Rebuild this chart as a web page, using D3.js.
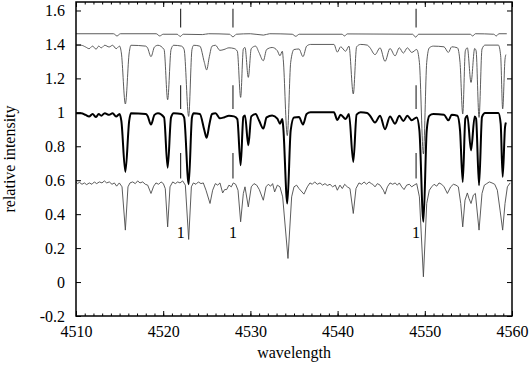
<!DOCTYPE html>
<html lang="en">
<head>
<meta charset="UTF-8">
<title>Spectra</title>
<script src="https://d3js.org/d3.v7.min.js"></script>
<style>
  body { margin: 0; background: #fff; }
  svg { display: block; font-family: "Liberation Serif", "DejaVu Serif", serif; }
  .axis text { font-family: "Liberation Serif", serif; font-size: 16px; fill: #000; }
  .axis path, .axis line { stroke: #000; }
  .axis-label { font-size: 16px; }
  .thin { fill: none; stroke: #4a4a4a; stroke-width: 0.9; }
  .thick { fill: none; stroke: #000; stroke-width: 2; }
</style>
</head>
<body>
<div id="chart"></div>
<script>
// model spectrum [wavelength, intensity], continuum at 1
const model = [
  [4510.0, 0.995], [4510.6, 0.995], [4511.1, 0.985], [4511.5, 0.975], [4511.9, 0.99],
  [4512.3, 0.972], [4512.6, 0.99], [4512.9, 0.98], [4513.3, 0.995], [4513.8, 0.985],
  [4514.2, 0.995], [4514.6, 0.975], [4515.0, 0.99], [4515.2, 0.95], [4515.66, 0.649],
  [4516.1, 0.95], [4516.3, 0.995], [4518.0, 0.99], [4518.2, 0.98], [4518.6, 0.928],
  [4519.0, 0.985], [4519.4, 0.995], [4520.1, 0.97], [4520.51, 0.674], [4520.9, 0.97],
  [4521.2, 0.995], [4522.1, 0.99], [4522.4, 0.97], [4522.92, 0.576], [4523.3, 0.97],
  [4523.5, 0.995], [4524.2, 0.99], [4524.72, 0.894], [4524.98, 0.85], [4525.3, 0.93],
  [4525.6, 0.99], [4526.0, 0.995], [4526.5, 0.965], [4526.97, 0.97], [4527.54, 0.98],
  [4528.12, 0.976], [4528.5, 0.96], [4528.88, 0.688], [4529.19, 0.973], [4529.38, 0.982],
  [4529.76, 0.806], [4530.1, 0.976], [4530.6, 0.99], [4530.98, 0.953], [4531.48, 0.904],
  [4531.86, 0.97], [4532.5, 0.982], [4533.09, 0.963], [4533.39, 0.933], [4533.66, 0.96],
  [4533.77, 0.91], [4534.23, 0.463], [4534.62, 0.894], [4535.0, 0.97], [4535.57, 0.973],
  [4536.03, 0.928], [4536.45, 0.99], [4536.9, 1.0], [4539.58, 1.0], [4539.97, 0.955],
  [4540.35, 0.986], [4540.92, 0.96], [4541.3, 0.99], [4541.8, 0.708], [4542.18, 0.986],
  [4542.64, 1.0], [4543.4, 0.996], [4543.72, 0.98], [4544.29, 0.94], [4544.87, 0.98],
  [4545.44, 0.9], [4546.01, 0.976], [4546.59, 0.933], [4547.08, 0.98], [4547.54, 0.949],
  [4548.0, 0.98], [4548.5, 0.953], [4549.07, 0.97], [4549.38, 0.894], [4549.84, 0.355],
  [4550.22, 0.894], [4550.52, 0.98], [4550.98, 0.99], [4552.2, 0.986], [4552.7, 0.953],
  [4553.09, 0.986], [4553.74, 0.98], [4554.04, 0.894], [4554.35, 0.59], [4554.65, 0.963],
  [4554.88, 0.98], [4555.3, 0.776], [4555.72, 0.976], [4555.88, 0.963], [4556.22, 0.57],
  [4556.56, 0.973], [4556.91, 0.996], [4558.44, 0.996], [4558.7, 0.933], [4558.93, 0.62],
  [4559.2, 0.913], [4559.3, 0.94]
];

// observed spectrum, plotted as is (continuum near 0.58)
const observed = [
  [4510.0, 0.59], [4510.19, 0.58], [4510.38, 0.588], [4510.69, 0.576], [4510.96, 0.584],
  [4511.22, 0.574], [4511.53, 0.584], [4511.83, 0.576], [4512.1, 0.59], [4512.37, 0.58],
  [4512.68, 0.59], [4512.98, 0.584], [4513.25, 0.596], [4513.52, 0.584], [4513.82, 0.59],
  [4514.13, 0.576], [4514.4, 0.584], [4514.66, 0.565], [4514.97, 0.584], [4515.28, 0.561],
  [4515.66, 0.306], [4515.96, 0.561], [4516.19, 0.584], [4516.5, 0.59], [4516.8, 0.58],
  [4517.07, 0.596], [4517.34, 0.584], [4517.65, 0.59], [4517.95, 0.576], [4518.22, 0.571],
  [4518.6, 0.522], [4518.91, 0.565], [4519.17, 0.584], [4519.48, 0.576], [4519.75, 0.59],
  [4520.02, 0.58], [4520.24, 0.55], [4520.51, 0.325], [4520.78, 0.561], [4521.09, 0.59],
  [4521.39, 0.58], [4521.66, 0.59], [4521.93, 0.584], [4522.23, 0.596], [4522.54, 0.571],
  [4522.92, 0.251], [4523.23, 0.561], [4523.46, 0.584], [4523.76, 0.576], [4524.03, 0.59],
  [4524.33, 0.58], [4524.6, 0.584], [4524.91, 0.541], [4525.37, 0.463], [4525.67, 0.541],
  [4525.98, 0.58], [4526.25, 0.571], [4526.51, 0.584], [4526.82, 0.525], [4527.05, 0.545],
  [4527.28, 0.545], [4527.54, 0.571], [4527.81, 0.561], [4528.04, 0.584], [4528.31, 0.576],
  [4528.58, 0.541], [4528.88, 0.355], [4529.19, 0.522], [4529.38, 0.561], [4529.76, 0.443],
  [4530.1, 0.561], [4530.41, 0.58], [4530.72, 0.571], [4531.02, 0.545], [4531.48, 0.482],
  [4531.79, 0.561], [4532.05, 0.576], [4532.32, 0.565], [4532.55, 0.58], [4532.78, 0.531],
  [4533.09, 0.571], [4533.39, 0.561], [4533.7, 0.502], [4534.31, 0.139], [4534.73, 0.502],
  [4535.0, 0.561], [4535.3, 0.571], [4535.57, 0.551], [4536.14, 0.518], [4536.53, 0.561],
  [4536.83, 0.584], [4537.1, 0.576], [4537.37, 0.59], [4537.67, 0.576], [4537.98, 0.584],
  [4538.28, 0.571], [4538.55, 0.58], [4538.82, 0.569], [4539.13, 0.576], [4539.43, 0.561],
  [4539.74, 0.571], [4539.97, 0.541], [4540.27, 0.571], [4540.54, 0.551], [4540.81, 0.576],
  [4541.11, 0.561], [4541.42, 0.551], [4541.8, 0.404], [4542.11, 0.551], [4542.45, 0.584],
  [4542.76, 0.576], [4543.03, 0.59], [4543.33, 0.576], [4543.6, 0.59], [4543.87, 0.58],
  [4544.03, 0.576], [4544.29, 0.561], [4544.56, 0.58], [4544.87, 0.571], [4545.25, 0.541],
  [4545.44, 0.518], [4545.71, 0.561], [4546.01, 0.584], [4546.32, 0.576], [4546.59, 0.584],
  [4546.85, 0.571], [4547.08, 0.584], [4547.35, 0.561], [4547.62, 0.545], [4547.92, 0.571],
  [4548.23, 0.576], [4548.5, 0.561], [4548.77, 0.571], [4549.07, 0.58], [4549.38, 0.502],
  [4549.84, 0.031], [4550.22, 0.463], [4550.52, 0.541], [4550.79, 0.561], [4551.06, 0.576],
  [4551.37, 0.565], [4551.63, 0.584], [4551.94, 0.576], [4552.21, 0.561], [4552.59, 0.522],
  [4552.97, 0.561], [4553.28, 0.576], [4553.58, 0.571], [4553.85, 0.561], [4554.12, 0.463],
  [4554.35, 0.325], [4554.61, 0.482], [4554.88, 0.525], [4555.07, 0.492], [4555.3, 0.463],
  [4555.57, 0.512], [4555.8, 0.522], [4556.22, 0.306], [4556.56, 0.522], [4556.83, 0.571],
  [4557.1, 0.58], [4557.4, 0.59], [4557.71, 0.584], [4558.02, 0.576], [4558.32, 0.541],
  [4558.63, 0.424], [4558.93, 0.306], [4559.2, 0.463], [4559.47, 0.561], [4559.78, 0.584]
];

// nearly flat spectrum on top
const flat = [
  [4510.0, 1.463], [4514.3, 1.463], [4514.7, 1.45], [4515.1, 1.463], [4519.2, 1.463],
  [4519.6, 1.45], [4520.0, 1.46], [4521.6, 1.46], [4521.95, 1.447], [4522.3, 1.46],
  [4524.5, 1.458], [4525.2, 1.463], [4527.6, 1.46], [4528.0, 1.445], [4528.4, 1.46],
  [4530.0, 1.463], [4531.5, 1.455], [4532.2, 1.463], [4534.8, 1.46], [4535.2, 1.448],
  [4535.6, 1.46], [4540.5, 1.46], [4540.8, 1.45], [4541.1, 1.462], [4548.6, 1.46],
  [4548.95, 1.443], [4549.3, 1.46], [4555.2, 1.46], [4555.5, 1.45], [4555.8, 1.463],
  [4557.9, 1.46], [4558.2, 1.45], [4558.5, 1.463], [4559.4, 1.463]
];

const modelShift = 0.4;          // model drawn a second time, shifted up

const markerWave = [4522, 4528, 4549];
const markerSpans = [[1.50, 1.61], [1.02, 1.16], [0.61, 0.76]];
const markerLabel = "1";
const markerLabelY = 0.29;

const xTicks = [4510, 4520, 4530, 4540, 4550, 4560];
const yTicks = [-0.2, 0, 0.2, 0.4, 0.6, 0.8, 1, 1.2, 1.4, 1.6];
const yTickLabels = ["-0.2", "0", "0.2", "0.4", "0.6", "0.8", "1", "1.2", "1.4", "1.6"];

const W = 531, H = 368;
const margin = { top: 2, right: 19, bottom: 52, left: 76 };

const svg = d3.select("#chart").append("svg")
  .attr("width", W)
  .attr("height", H);

const x = d3.scaleLinear().domain([4510, 4560]).range([margin.left, W - margin.right]);
const y = d3.scaleLinear().domain([-0.2, 1.65]).range([H - margin.bottom, margin.top]);

svg.append("clipPath").attr("id", "clip")
  .append("rect")
  .attr("x", margin.left).attr("y", margin.top)
  .attr("width", x(4560) - x(4510)).attr("height", y(-0.2) - y(1.65));

const line = d3.line().x(d => x(d[0])).y(d => y(d[1]));
const smooth = d3.line().x(d => x(d[0])).y(d => y(d[1])).curve(d3.curveMonotoneX);
const plot = svg.append("g").attr("clip-path", "url(#clip)");

plot.append("path").attr("class", "thin").attr("d", smooth(flat));
plot.append("path").attr("class", "thin")
  .attr("d", smooth(model.map(d => [d[0], d[1] + modelShift])));
plot.append("path").attr("class", "thick").attr("d", smooth(model));
plot.append("path").attr("class", "thin").attr("d", line(observed));

// line markers
markerWave.forEach(w => {
  markerSpans.forEach(s => {
    svg.append("line")
      .attr("x1", x(w)).attr("x2", x(w))
      .attr("y1", y(s[0])).attr("y2", y(s[1]))
      .attr("stroke", "#222").attr("stroke-width", 1.1);
  });
  svg.append("text")
    .attr("x", x(w)).attr("y", y(markerLabelY))
    .attr("dy", "0.35em")
    .attr("text-anchor", "middle")
    .style("font-size", "16px")
    .text(markerLabel);
});

// axes, ticks pointing inward
const minor = d3.range(4510, 4561, 1);
const yBottom = H - margin.bottom, yTop = margin.top;
const xLeft = margin.left, xRight = W - margin.right;

function tidy(g) {
  g.attr("font-family", null).attr("font-size", null);
  g.select(".domain").remove();
}

svg.append("g").attr("class", "axis")
  .attr("transform", `translate(0,${yBottom})`)
  .call(d3.axisBottom(x).tickValues(minor).tickSize(-2.5).tickFormat(""))
  .call(tidy);
svg.append("g").attr("class", "axis")
  .attr("transform", `translate(0,${yBottom})`)
  .call(d3.axisBottom(x).tickValues(xTicks).tickSize(-5).tickPadding(10).tickFormat(d3.format("d")))
  .call(tidy);
svg.append("g").attr("class", "axis")
  .attr("transform", `translate(0,${yTop})`)
  .call(d3.axisTop(x).tickValues(minor).tickSize(-2.5).tickFormat(""))
  .call(tidy);
svg.append("g").attr("class", "axis")
  .attr("transform", `translate(0,${yTop})`)
  .call(d3.axisTop(x).tickValues(xTicks).tickSize(-5).tickFormat(""))
  .call(tidy);
svg.append("g").attr("class", "axis")
  .attr("transform", `translate(${xLeft},0)`)
  .call(d3.axisLeft(y).tickValues(yTicks).tickSize(-5).tickPadding(11)
    .tickFormat((d, i) => yTickLabels[i]))
  .call(tidy);
svg.append("g").attr("class", "axis")
  .attr("transform", `translate(${xRight},0)`)
  .call(d3.axisRight(y).tickValues(yTicks).tickSize(-5).tickFormat(""))
  .call(tidy);

svg.append("rect")
  .attr("x", xLeft).attr("y", yTop)
  .attr("width", xRight - xLeft).attr("height", yBottom - yTop)
  .attr("fill", "none").attr("stroke", "#000").attr("stroke-width", 1.5);

svg.append("text")
  .attr("class", "axis-label")
  .attr("x", (xLeft + xRight) / 2)
  .attr("y", 358)
  .attr("text-anchor", "middle")
  .text("wavelength");

svg.append("text")
  .attr("class", "axis-label")
  .attr("transform", `translate(15,${(yTop + yBottom) / 2}) rotate(-90)`)
  .attr("text-anchor", "middle")
  .text("relative intensity");
</script>
</body>
</html>
